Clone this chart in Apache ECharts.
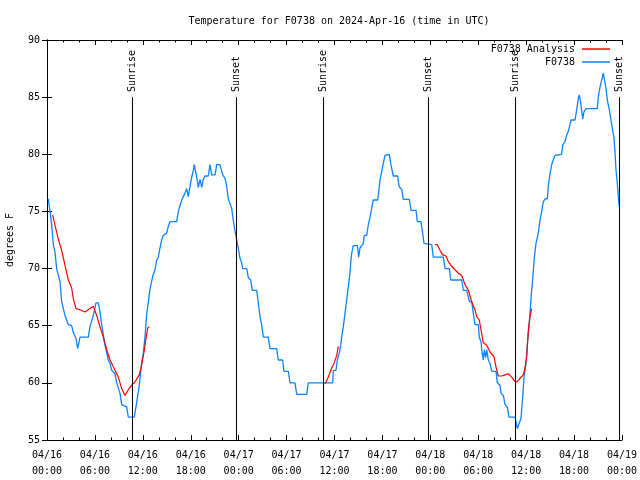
<!DOCTYPE html>
<html>
<head>
<meta charset="utf-8">
<script src="https://cdn.jsdelivr.net/npm/echarts@6/dist/echarts.min.js"></script>
<style>html,body{margin:0;padding:0;background:#fff}#c{width:640px;height:480px}</style>
</head>
<body>
<div id="c"></div>
<script>
// hours since 2024-04-16 00:00 UTC
var obsHours = [0.16,0.38,0.59,0.79,0.99,1.21,1.63,1.84,2.25,2.67,3.09,3.29,3.63,3.84,4.13,5.17,5.38,5.80,6.14,6.42,6.64,6.85,7.26,7.68,7.89,8.10,8.51,8.73,9.14,9.35,9.98,10.18,10.93,11.23,11.56,11.86,12.06,12.27,12.48,12.68,12.90,13.23,13.52,13.74,13.94,14.15,14.36,14.56,14.99,15.19,15.40,16.24,16.44,16.87,17.28,17.49,17.69,17.91,18.12,18.32,18.44,18.74,18.95,19.16,19.37,19.57,19.78,20.20,20.41,20.62,21.04,21.25,21.66,22.00,22.29,22.50,22.70,22.91,23.13,23.33,23.54,23.75,23.95,24.17,24.38,24.51,25.01,25.21,25.51,25.71,26.26,26.46,26.67,26.88,27.09,27.71,27.92,28.76,28.96,29.51,29.68,30.22,30.43,31.05,31.27,32.52,32.72,35.77,35.85,36.19,36.35,36.60,36.78,36.90,37.10,37.32,37.53,37.73,37.94,38.03,38.15,38.35,38.86,39.03,39.19,39.41,39.61,39.73,40.03,40.23,40.45,40.66,40.86,41.41,41.57,41.70,41.91,42.11,42.32,42.86,43.04,43.36,43.91,44.08,44.42,44.62,45.37,45.58,46.21,46.37,46.83,47.04,47.21,47.33,48.17,48.37,49.62,49.84,50.38,50.55,51.93,52.13,52.55,52.76,52.88,53.18,53.38,53.59,54.01,54.13,54.35,54.43,54.63,54.76,54.93,55.06,55.26,55.47,55.68,56.22,56.39,56.72,56.85,57.14,57.35,57.64,57.85,58.60,58.73,58.89,59.14,59.35,59.57,59.73,59.98,60.14,60.39,60.61,60.82,61.02,61.23,61.52,61.73,61.94,62.15,62.36,62.65,62.77,62.99,63.20,63.40,63.61,64.45,64.57,64.86,65.08,65.28,65.49,65.62,66.12,66.33,66.53,66.65,66.83,67.08,67.24,67.49,68.91,69.03,69.25,69.46,69.66,69.78,69.99,70.16,70.41,70.62,70.83,71.00,71.13,71.25,71.41,71.54,71.66,71.75];
var obsTemps = [76.1,75.0,73.8,72.1,71.5,70.0,68.85,67.1,65.9,65.1,65.0,64.4,63.9,63.0,64.0,64.0,64.9,65.9,67.0,67.0,66.2,65.1,63.3,62.0,61.7,61.1,60.8,60.0,59.1,58.1,57.9,57.0,57.0,58.3,59.8,61.8,62.6,64.0,66.0,67.0,68.2,69.3,69.9,70.75,71.0,71.8,72.5,72.9,73.1,73.7,74.1,74.1,75.0,76.0,76.6,77.0,76.3,77.2,78.0,78.6,79.1,78.0,77.1,77.8,77.1,77.8,78.1,78.1,79.1,78.2,78.2,79.1,79.1,78.2,77.9,77.2,76.1,76.0,75.25,74.2,73.3,72.5,71.8,70.9,70.5,70.0,70.0,69.2,69.0,68.1,68.1,67.0,65.8,65.1,64.0,64.0,63.0,63.0,62.0,62.0,61.0,61.0,60.0,60.0,59.0,59.0,60.0,60.0,61.1,61.1,62.0,62.6,63.3,64.0,64.9,66.1,67.25,68.4,69.6,70.5,71.3,72.0,72.0,71.0,71.8,72.0,72.2,72.9,72.9,73.8,74.5,75.3,76.0,76.0,76.9,77.75,78.5,79.2,79.9,80.0,79.2,78.1,78.1,77.2,76.9,76.05,76.05,75.1,75.1,74.1,74.1,73.1,72.2,72.1,72.1,71.0,71.0,70.0,70.0,69.0,69.0,68.1,68.1,67.5,67.1,67.1,66.1,65.1,65.1,64.0,63.6,62.9,62.0,62.9,62.2,62.9,62.0,61.7,61.0,61.0,60.0,59.8,59.1,58.9,58.1,57.9,57.0,57.0,56.6,56.0,56.0,56.9,58.8,60.5,61.7,63.3,65.2,67.4,69.1,70.9,72.2,73.1,74.2,75.0,75.85,76.1,76.1,77.2,78.3,79.1,79.5,79.9,80.0,80.8,81.1,81.7,82.0,82.0,83.0,83.0,83.9,84.9,85.2,84.5,83.1,83.7,84.0,84.0,85.0,85.9,86.5,87.1,86.6,85.8,84.75,83.9,83.0,82.1,81.4,80.1,78.6,77.5,76.3,75.4,75.5];

var anaHours1 = [0.71,1.00,1.41,1.84,2.25,2.67,3.09,3.29,3.63,4.13,4.76,5.38,5.80,6.22,6.64,7.05,7.48,7.89,8.30,8.93,9.35,9.77,10.18,10.61,11.02,11.56,11.86,12.15,12.40,12.61,12.81];
var anaTemps1 = [74.7,73.8,72.6,71.6,70.3,69.0,68.3,67.4,66.5,66.4,66.2,66.5,66.7,65.9,64.9,64.0,62.9,62.0,61.4,60.5,59.5,58.9,59.4,59.8,60.1,60.7,61.6,62.7,63.9,64.8,64.9];
var anaHours2 = [34.81,35.22,35.65,35.94,36.28,36.48];
var anaTemps2 = [59.9,60.5,61.3,61.7,62.4,63.2];
var anaHours3 = [48.59,48.87,49.21,49.55,49.96,50.25,50.68,51.09,51.50,51.93,52.34,52.76,53.18,53.59,53.81,54.13,54.43,54.63,55.06,55.47,55.97,56.22,56.51,56.94,57.35,57.76,58.19,58.60,58.89,59.23,59.64,59.85,60.07,60.27,60.48,60.69];
var anaTemps3 = [72.1,72.1,71.6,71.2,71.1,70.6,70.2,69.9,69.6,69.4,68.6,68.1,67.1,66.4,65.8,65.5,64.3,63.5,63.3,62.7,62.3,61.4,60.6,60.6,60.7,60.8,60.5,60.1,60.1,60.4,60.7,61.3,62.3,64.6,65.8,66.5];

var sunHours = [10.65, 23.7, 34.6, 47.7, 58.6, 71.65];
var sunNames = ['Sunrise', 'Sunset', 'Sunrise', 'Sunset', 'Sunrise', 'Sunset'];
var sunLineTop = 85.0;
var sunLabelAt = 85.45;

var yMin = 55, yMax = 90, yStep = 5;

function zip(a, b) { return a.map(function (v, i) { return [v, b[i]]; }); }
var obsData = zip(obsHours, obsTemps);
var anaData = zip(anaHours1, anaTemps1).concat([['-', '-']], zip(anaHours2, anaTemps2), [['-', '-']], zip(anaHours3, anaTemps3));

function pad(n) { return (n < 10 ? '0' : '') + n; }
function xLabel(v) {
  var day = 16 + Math.floor(v / 24 + 1e-9);
  var hr = Math.round(v - (day - 16) * 24);
  return '04/' + pad(day) + '\n' + pad(hr) + ':00';
}

var FONT = 'DejaVu Sans Mono';
var chart = echarts.init(document.getElementById('c'), null, { renderer: 'canvas' });

var sunLines = sunHours.map(function (h) {
  return [{ coord: [h, yMin] }, { coord: [h, sunLineTop] }];
});
var sunLabelData = sunHours.map(function (h, i) { return [h, sunLabelAt, sunNames[i]]; });

var axisCommon = {
  axisLine: { show: true, lineStyle: { color: '#000', width: 1 } },
  splitLine: { show: false }
};

chart.setOption({
  animation: false,
  backgroundColor: '#fff',
  textStyle: { fontFamily: FONT, color: '#000' },
  title: {
    text: 'Temperature for F0738 on 2024-Apr-16 (time in UTC)',
    left: 334, textAlign: 'center', top: 11,
    textStyle: { fontFamily: FONT, fontSize: 10, fontWeight: 'normal', color: '#000' }
  },
  grid: { left: 47, right: 18, top: 40, bottom: 40, containLabel: false, outerBoundsMode: 'none' },
  legend: {
    data: ['F0738 Analysis', 'F0738'],
    orient: 'vertical', align: 'right', right: 30, top: 44, padding: 0,
    itemWidth: 28, itemHeight: 1.5, itemGap: 3,
    textStyle: { fontFamily: FONT, fontSize: 10, color: '#000', padding: [0, 2, 0, 0] },
    icon: 'rect'
  },
  xAxis: [
    Object.assign({
      type: 'value', min: 0, max: 72, interval: 6, position: 'bottom',
      axisTick: { show: true, inside: true, length: 5, lineStyle: { color: '#000' } },
      minorTick: { show: true, splitNumber: 3, length: 2.5, lineStyle: { color: '#000' } },
      axisLabel: { formatter: xLabel, fontFamily: FONT, fontSize: 10, color: '#000', lineHeight: 16, margin: 7 }
    }, axisCommon),
    Object.assign({
      type: 'value', min: 0, max: 72, interval: 6, position: 'top',
      axisTick: { show: true, inside: true, length: 5, lineStyle: { color: '#000' } },
      minorTick: { show: true, splitNumber: 3, length: 2.5, lineStyle: { color: '#000' } },
      axisLabel: { show: false }
    }, axisCommon)
  ],
  yAxis: [
    Object.assign({
      type: 'value', min: yMin, max: yMax, interval: yStep, position: 'left',
      name: 'degrees F', nameLocation: 'middle', nameGap: 32, nameRotate: 90,
      nameTextStyle: { fontFamily: FONT, fontSize: 10, color: '#000' },
      axisTick: { show: true, inside: true, length: 5, lineStyle: { color: '#000' } },
      axisLabel: { fontFamily: FONT, fontSize: 10, color: '#000', margin: 7 }
    }, axisCommon),
    Object.assign({
      type: 'value', min: yMin, max: yMax, interval: yStep, position: 'right',
      axisTick: { show: true, inside: true, length: 5, lineStyle: { color: '#000' } },
      axisLabel: { show: false }
    }, axisCommon)
  ],
  series: [
    {
      name: 'F0738 Analysis', type: 'line', xAxisIndex: 0, yAxisIndex: 0,
      data: anaData, showSymbol: false, symbol: 'none', connectNulls: false,
      lineStyle: { color: '#ff0000', width: 1.2 }, itemStyle: { color: '#ff0000' }, z: 3
    },
    {
      name: 'F0738', type: 'line', xAxisIndex: 0, yAxisIndex: 0,
      data: obsData, showSymbol: false, symbol: 'none',
      lineStyle: { color: '#0a84ff', width: 1.3 }, itemStyle: { color: '#0a84ff' }, z: 2,
      markLine: {
        silent: true, symbol: ['none', 'none'],
        lineStyle: { color: '#000', width: 1, type: 'solid' },
        label: { show: false },
        data: sunLines
      }
    },
    {
      name: 'sun', type: 'scatter', xAxisIndex: 0, yAxisIndex: 0,
      data: sunLabelData, symbolSize: 1, itemStyle: { color: 'rgba(0,0,0,0)' }, silent: true,
      labelLayout: { hideOverlap: false },
      label: {
        show: true, position: 'inside', rotate: 90, align: 'left', verticalAlign: 'middle',
        formatter: function (p) { return p.value[2]; },
        fontFamily: FONT, fontSize: 10, color: '#000', opacity: 1
      },
      z: 4
    }
  ]
});
</script>
</body>
</html>
